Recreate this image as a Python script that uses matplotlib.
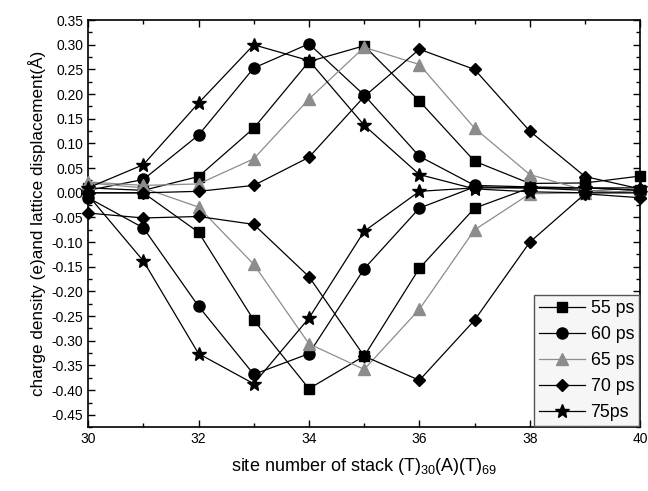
import matplotlib
matplotlib.use("Agg")
import matplotlib.pyplot as plt
from matplotlib.ticker import MultipleLocator, FormatStrFormatter

plt.rcParams['font.family'] = ['Liberation Sans', 'DejaVu Sans']
plt.rcParams['mathtext.fontset'] = 'custom'
plt.rcParams['mathtext.rm'] = 'Liberation Sans'
plt.rcParams['mathtext.it'] = 'Liberation Sans'

sites = [30, 31, 32, 33, 34, 35, 36, 37, 38, 39, 40]
labels = ["55 ps", "60 ps", "65 ps", "70 ps", "75ps"]

p55_pos = [0.010, 0.005, 0.033, 0.131, 0.266, 0.298, 0.186, 0.064, 0.019, 0.020, 0.034]
p55_neg = [0.000, 0.000, -0.080, -0.258, -0.397, -0.331, -0.153, -0.031, 0.010, 0.010, 0.005]
p60_pos = [0.005, 0.027, 0.117, 0.253, 0.302, 0.198, 0.074, 0.015, 0.012, 0.010, 0.005]
p60_neg = [-0.010, -0.071, -0.230, -0.368, -0.326, -0.154, -0.031, 0.012, 0.010, 0.005, 0.000]
p65_pos = [0.022, 0.015, 0.018, 0.069, 0.190, 0.295, 0.260, 0.131, 0.037, 0.005, 0.000]
p65_neg = [0.020, 0.010, -0.029, -0.145, -0.306, -0.358, -0.236, -0.075, -0.002, 0.000, 0.000]
p70_pos = [0.000, 0.000, 0.003, 0.015, 0.072, 0.195, 0.291, 0.250, 0.125, 0.033, 0.008]
p70_neg = [-0.041, -0.051, -0.048, -0.064, -0.170, -0.331, -0.380, -0.258, -0.100, -0.002, -0.010]
p75_pos = [0.010, 0.057, 0.182, 0.300, 0.268, 0.137, 0.037, 0.008, 0.002, 0.000, 0.000]
p75_neg = [-0.005, -0.138, -0.326, -0.387, -0.254, -0.078, 0.003, 0.010, 0.010, 0.010, 0.010]

series = [
    (p55_pos, p55_neg, 's', 'black', 7),
    (p60_pos, p60_neg, 'o', 'black', 8),
    (p65_pos, p65_neg, '^', '#8c8c8c', 8),
    (p70_pos, p70_neg, 'D', 'black', 6.5),
    (p75_pos, p75_neg, '*', 'black', 10),
]

fig = plt.figure(figsize=(6.48, 4.91), dpi=100)
ax = fig.add_axes([0.136, 0.130, 0.852, 0.829])

for (pos, neg, mk, col, ms), lab in zip(series, labels):
    ax.plot(sites, pos, marker=mk, color=col, lw=0.9, ms=ms, label=lab, clip_on=False, zorder=3)
    ax.plot(sites, neg, marker=mk, color=col, lw=0.9, ms=ms, clip_on=False, zorder=3)

ax.set_xlim(30, 40)
ax.set_ylim(-0.475, 0.35)
ax.xaxis.set_major_locator(MultipleLocator(2))
ax.xaxis.set_minor_locator(MultipleLocator(1))
ax.yaxis.set_major_locator(MultipleLocator(0.05))
ax.yaxis.set_minor_locator(MultipleLocator(0.025))
ax.yaxis.set_major_formatter(FormatStrFormatter('%.2f'))
ax.tick_params(which='both', direction='in', top=True, right=True, labelsize=10, width=1)
ax.tick_params(which='major', length=5)
ax.tick_params(which='minor', length=3)
for s in ax.spines.values():
    s.set_linewidth(1.2)

ax.set_xlabel(r"site number of stack (T)$_{30}$(A)(T)$_{69}$", fontsize=13, labelpad=7)
ax.set_ylabel("charge density (e)and lattice displacement(Å)", fontsize=12.3, labelpad=4)

leg = ax.legend(loc='lower right', fontsize=12.8, handlelength=2.6, borderaxespad=0.05,
                handletextpad=0.3, labelspacing=0.5, fancybox=False, framealpha=1,
                borderpad=0.3)
leg.get_frame().set_facecolor('#f6f6f6')
leg.get_frame().set_edgecolor('#555555')
leg.get_frame().set_linewidth(1)

fig.savefig("out.png", dpi=100)
